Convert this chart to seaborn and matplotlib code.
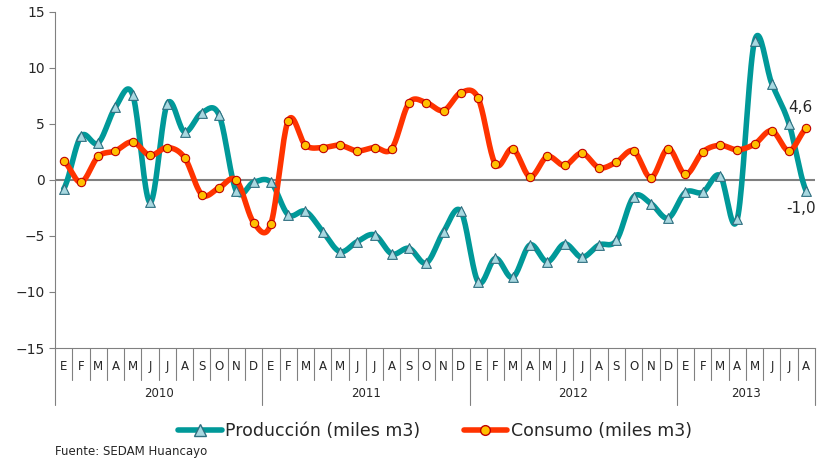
import numpy as np
import pandas as pd
import seaborn as sns
from matplotlib import pyplot as plt

months = ['E', 'F', 'M', 'A', 'M', 'J', 'J', 'A', 'S', 'O', 'N', 'D']
years = ['2010', '2011', '2012', '2013']
month_labels = months * 3 + months[:8]

produccion = [-0.8, 3.9, 3.3, 6.5, 7.6, -2.0, 6.8, 4.3, 6.0, 5.8, -1.0, -0.2,
              -0.2, -3.1, -2.8, -4.6, -6.4, -5.5, -4.9, -6.6, -6.1, -7.4, -4.6, -2.8,
              -9.1, -7.0, -8.7, -5.8, -7.3, -5.7, -6.9, -5.8, -5.4, -1.5, -2.1, -3.4,
              -1.1, -1.1, 0.4, -3.5, 12.4, 8.6, 5.0, -1.0]
consumo = [1.7, -0.2, 2.1, 2.6, 3.4, 2.2, 2.9, 2.0, -1.3, -0.7, 0.0, -3.8,
           -3.9, 5.3, 3.1, 2.9, 3.1, 2.6, 2.9, 2.8, 6.9, 6.9, 6.2, 7.8,
           7.3, 1.4, 2.8, 0.3, 2.1, 1.3, 2.4, 1.1, 1.6, 2.6, 0.2, 2.8,
           0.5, 2.5, 3.1, 2.7, 3.2, 4.4, 2.6, 4.6]

TEAL = '#009999'
RED = '#FF3300'


def smooth(y, n=20):
    # Catmull-Rom curve through the points, like Excel's smoothed line
    y = np.asarray(y, float)
    p = np.concatenate([[y[0]], y, [y[-1]]])
    xs, ys = [], []
    for i in range(len(y) - 1):
        p0, p1, p2, p3 = p[i], p[i + 1], p[i + 2], p[i + 3]
        t = np.linspace(0, 1, n, endpoint=False)
        ys.append(0.5 * (2 * p1 + (-p0 + p2) * t + (2 * p0 - 5 * p1 + 4 * p2 - p3) * t ** 2
                         + (-p0 + 3 * p1 - 3 * p2 + p3) * t ** 3))
        xs.append(i + t)
    xs.append([len(y) - 1]); ys.append([y[-1]])
    return np.concatenate(xs), np.concatenate(ys)


sns.set_style('white')
fig = plt.figure(figsize=(8.34, 4.63), dpi=100)
ax = fig.add_axes([55 / 834, 1 - 348 / 463, 760 / 834, 336 / 463])

x = np.arange(len(produccion))
for vals, col, mk, mfc, mec, ms, lab in [
        (produccion, TEAL, '^', '#A8D8E0', '#2F6F80', 7, 'Producción (miles m3)'),
        (consumo, RED, 'o', '#FFC000', '#C00000', 6, 'Consumo (miles m3)')]:
    sx, sy = smooth(vals)
    sns.lineplot(x=sx, y=sy, color=col, lw=4, ax=ax, sort=False)
    ax.plot([], [], color=col, lw=4, marker=mk, ms=ms + 1, mfc=mfc, mec=mec, label=lab)
    ax.scatter(x, vals, marker=mk, s=ms ** 2, color=mfc, edgecolor=mec, lw=0.8, zorder=5)

ax.axhline(0, color='#808080', lw=1.5, zorder=1)
ax.set_xlim(-0.5, len(x) - 0.5)
ax.set_ylim(-15, 15)
ax.set_yticks(range(-15, 16, 5))
ax.tick_params(axis='y', labelsize=10, length=4, direction='out', left=True, color='#808080')
ax.set_xticks([])
for s in ['top', 'right']:
    ax.spines[s].set_visible(False)
ax.spines['left'].set_color('#808080')
ax.spines['bottom'].set_color('#808080')

ax.annotate('4,6', (x[-1], consumo[-1]), xytext=(-4, 12), textcoords='offset points', ha='center', fontsize=11)
ax.annotate('-1,0', (x[-1], produccion[-1]), xytext=(-4, -16), textcoords='offset points', ha='center', fontsize=11)

# two-level category axis
tr = ax.get_xaxis_transform()
for i, m in enumerate(month_labels):
    ax.text(i, -0.055, m, transform=tr, ha='center', va='center', fontsize=8.5)
for i in range(len(x) + 1):
    yb = -0.17 if i % 12 == 0 else -0.095
    if i == len(x):
        yb = -0.17
    ax.plot([i - 0.5, i - 0.5], [0, yb], transform=tr, color='#808080', lw=0.8, clip_on=False)
for k, yr in enumerate(years):
    start = k * 12
    end = min(start + 12, len(x))
    ax.text((start + end - 1) / 2, -0.135, yr, transform=tr, ha='center', va='center', fontsize=8.5)

ax.legend(loc='upper center', bbox_to_anchor=(0.5, -0.175), ncol=2, frameon=False,
          fontsize=12.5, handlelength=2.5, columnspacing=2.5, handletextpad=0.2)
fig.text(55 / 834, 1 - 452 / 463, 'Fuente: SEDAM Huancayo', fontsize=8.5, va='center')

fig.savefig('out.png', dpi=100)
